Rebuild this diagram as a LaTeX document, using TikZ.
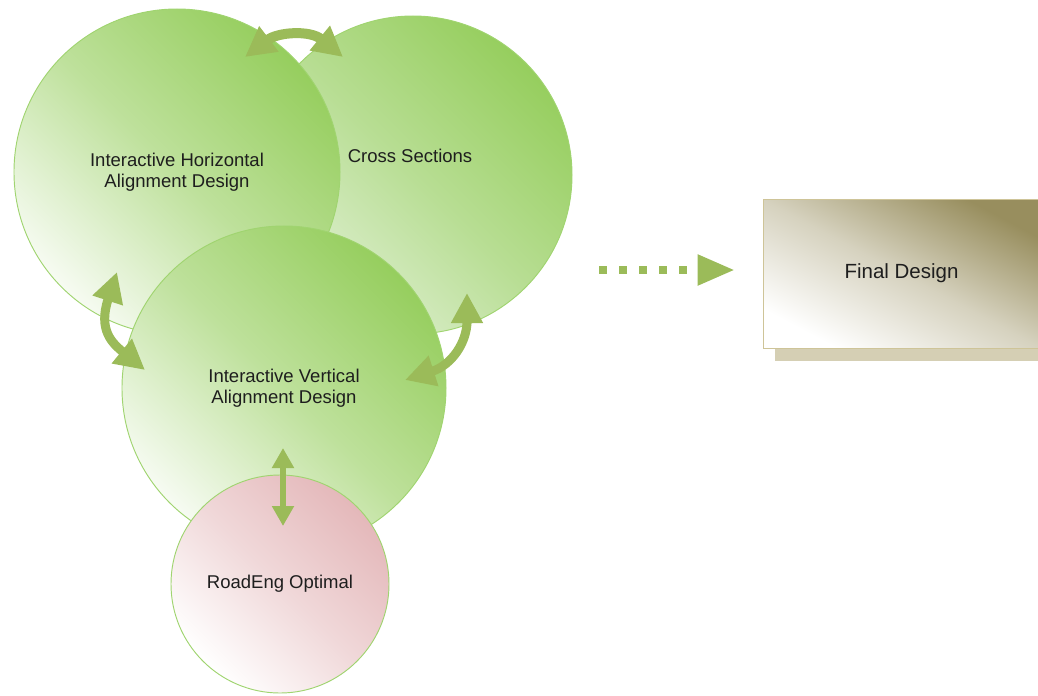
\documentclass[tikz,border=0pt]{standalone}
\usepackage{fontspec}
\setmainfont{Liberation Sans}
\usetikzlibrary{arrows.meta,shadows}
\definecolor{leaf}{RGB}{150,206,94}
\definecolor{leafpale}{RGB}{226,241,214}
\definecolor{leafline}{RGB}{160,212,112}
\definecolor{sage}{RGB}{155,187,89}
\definecolor{rose}{RGB}{228,184,186}
\definecolor{khaki}{RGB}{152,142,94}
\definecolor{khakiline}{RGB}{206,196,152}
\definecolor{khakishade}{RGB}{213,207,180}
\definecolor{ink}{RGB}{30,30,30}

\begin{document}
\begin{tikzpicture}[
  x=0.03cm, y=-0.03cm,
  txt/.style={font=\fontsize{15.8}{17.5}\selectfont, text=ink, align=center},
  bubble/.style={circle, draw=leafline, line width=0.8pt, bottom color=leaf!8!white, top color=leaf,
    middle color=leaf!62!white, shading angle=-45, txt},
  paleb/.style={bubble, bottom color=leafpale, top color=leaf, middle color=leaf!55!leafpale, shading angle=-45},
  pinkb/.style={bubble, bottom color=white, top color=rose, middle color=rose!55!white, shading angle=-45},
  card/.style={rectangle, draw=khakiline, line width=0.8pt, bottom color=white, top color=khaki,
    middle color=khaki!40!white, shading angle=-28,
    minimum width=8.3cm, minimum height=4.47cm, font=\fontsize{17.5}{20}\selectfont, text=ink,
    general shadow={fill=khakishade, shadow xshift=0.36cm, shadow yshift=-0.375cm}},
  link/.style={sage, line width=0.27cm, {Triangle[length=0.9cm,width=0.9cm]}-{Triangle[length=0.9cm,width=0.9cm]}},
  thinlink/.style={sage, line width=0.18cm, {Triangle[length=0.6cm,width=0.63cm]}-{Triangle[length=0.6cm,width=0.63cm]}}
]
  \useasboundingbox (0,0) rectangle (1038,695);

  \node[paleb, minimum size=9.54cm] (cs) at (413,175) {};
  \node[txt] (cslbl) at (410,156) {Cross Sections};
  \node[bubble, minimum size=9.78cm] (h) at (177,172) {Interactive Horizontal\\Alignment Design};
  \node[bubble, minimum size=9.72cm] (v) at (284,388) {Interactive Vertical\\Alignment Design};
  \node[pinkb, minimum size=6.54cm] (ro) at (280,584) {RoadEng Optimal};
  \node[card] (fd) at (901.5,273.5) {Final Design};

  % ends of the curved links
  \coordinate (hcs1) at (245,57);
  \coordinate (hcs2) at (343,57);
  \coordinate (hv1) at (117,272);
  \coordinate (hv2) at (145,370);
  \coordinate (csv1) at (467,293);
  \coordinate (csv2) at (405,380);
  \coordinate (vr1) at (283,448);
  \coordinate (vr2) at (283,526);
  \coordinate (dots) at (599,270);

  \draw[link, line width=0.3cm] (hcs1) .. controls (278,32) and (310,30) .. (hcs2);
  \draw[link] (hv1) .. controls (98,330) and (112,343) .. (hv2);
  \draw[link] (csv1) .. controls (467,342) and (452,365) .. (csv2);
  \draw[thinlink] (vr1) -- (vr2);
  \draw[sage, line width=0.24cm, dash pattern=on 0.24cm off 0.36cm, -{Triangle[length=1.11cm,width=0.87cm]}, shorten >=0.84cm]
    (dots) -- (dots -| fd.west);
\end{tikzpicture}
\end{document}
